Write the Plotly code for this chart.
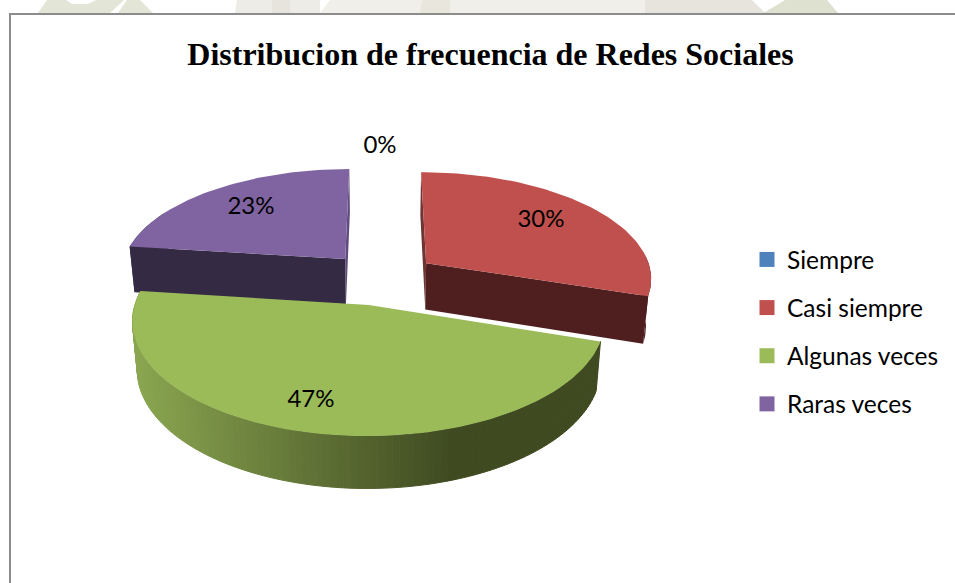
import math

import plotly.graph_objects as go

categories = ["Siempre", "Casi siempre", "Algunas veces", "Raras veces"]
percent_values = [0, 30, 47, 23]

top_colors = ["#4F81BD", "#C0504D", "#9BBB59", "#8064A2"]
cut_colors = ["#2A4465", "#4E1F1E", "#3F4A21", "#352A44"]
back_colors = ["#2A4465", "#6E3533", "#3F4A21", "#614C80"]

EXPLODE = 0.248
CENTER_V = 0.242
TILT = 0.134
VANISH_X = 381.5
TOP_PLANE = dict(r=234.0, s=113.5, y=305.0)
BASE_PLANE = dict(r=229.5, s=117.5, y=352.8)
LABEL_FONT = "Lato"


def project(theta, mid, plane, radius=1.0):
    u = EXPLODE * math.sin(mid) + radius * math.sin(theta)
    v = CENTER_V + EXPLODE * math.cos(mid) + radius * math.cos(theta)
    w = 1 + TILT * v
    return VANISH_X + plane["r"] * u / w, plane["y"] - plane["s"] * v / w


def arc_steps(start, end, step=math.radians(1.5)):
    count = max(1, int(abs(end - start) / step))
    return [start + (end - start) * i / count for i in range(count + 1)]


def polygon(points, color, line_width=0):
    return go.Scatter(
        x=[p[0] for p in points] + [points[0][0]],
        y=[p[1] for p in points] + [points[0][1]],
        mode="lines",
        fill="toself",
        fillcolor=color,
        line=dict(color=color, width=line_width),
        hoverinfo="skip",
        showlegend=False,
    )


def green_shade(x):
    # rim of the big slice: lit on the left, flat dark from about x=455
    t = min(1.0, max(0.0, (x - 135) / (455 - 135)))
    light, dark = (0x8A, 0xA6, 0x50), (0x3F, 0x4A, 0x21)
    rgb = [round(a + (b - a) * t) for a, b in zip(light, dark)]
    return "rgb(%d,%d,%d)" % tuple(rgb)


bounds = [0.0]
for value in percent_values:
    bounds.append(bounds[-1] + value / sum(percent_values) * 2 * math.pi)
slices = list(zip(bounds[:-1], bounds[1:]))

fig = go.Figure()

# back slices first, the front one lies over their walls
for i in [3, 1]:
    start, end = slices[i]
    mid = (start + end) / 2
    top_apex = project(0, mid, TOP_PLANE, 0)
    base_apex = project(0, mid, BASE_PLANE, 0)
    # wall on the far cut
    far = end if i == 3 else start
    near = start if i == 3 else end
    fig.add_trace(polygon([top_apex, project(far, mid, TOP_PLANE),
                           project(far, mid, BASE_PLANE), base_apex], back_colors[i]))
    fig.add_trace(polygon([top_apex, project(near, mid, TOP_PLANE),
                           project(near, mid, BASE_PLANE), base_apex], cut_colors[i]))
    # short piece of rim next to the near cut
    rim_end = near + (math.radians(-22) if i == 1 else math.radians(22))
    rim = arc_steps(near, rim_end)
    fig.add_trace(polygon([project(t, mid, TOP_PLANE) for t in rim]
                          + [project(t, mid, BASE_PLANE) for t in reversed(rim)],
                          cut_colors[i]))
    arc = arc_steps(start, end)
    fig.add_trace(polygon([top_apex] + [project(t, mid, TOP_PLANE) for t in arc], top_colors[i]))

start, end = slices[2]
mid = (start + end) / 2
arc = arc_steps(start, end)
for t0, t1 in zip(arc[:-1], arc[1:]):
    quad = [project(t0, mid, TOP_PLANE), project(t1, mid, TOP_PLANE),
            project(t1, mid, BASE_PLANE), project(t0, mid, BASE_PLANE)]
    fig.add_trace(polygon(quad, green_shade(quad[0][0]), 1))
fig.add_trace(polygon([project(0, mid, TOP_PLANE, 0)] + [project(t, mid, TOP_PLANE) for t in arc],
                      top_colors[2]))

# legend swatches
for name, color in zip(categories, top_colors):
    fig.add_trace(go.Scatter(
        x=[None], y=[None], mode="markers", name=name, legendgroup=name,
        marker=dict(symbol="square", size=15, color=color),
    ))

label_text = ["%d%%" % v for v in percent_values]
label_x = [380, 541, 311, 251]
label_y = [147, 221, 401, 208]
fig.add_trace(go.Scatter(
    x=label_x, y=label_y, mode="text", text=label_text, textposition="middle center",
    textfont=dict(family=LABEL_FONT, size=24, color="#000000"),
    hoverinfo="skip", showlegend=False,
))

# faint page watermark above the chart frame
watermark = [
    ("M38,13 L47,0 L66,0 L72,4 L88,4 L96,0 L124,0 L110,13 Z", "#E3E5D7"),
    ("M118,13 L127,0 L140,0 L153,13 Z", "#E3E5D7"),
    ("M235,13 L237,0 L320,0 L320,13 Z", "#EEECE6"),
    ("M272,13 L272,0 L290,0 L290,13 Z", "#E6E4DC"),
    ("M320,13 L330,0 L645,0 L645,13 Z", "#F0EFE9"),
    ("M420,13 L422,0 L450,0 L450,13 Z", "#E9E6DD"),
    ("M645,13 L645,0 L752,0 L765,13 Z", "#E6E4DC"),
    ("M763,13 L772,8 L785,0 L827,0 L838,13 Z", "#DFE1D0"),
]
shapes = [dict(type="path", path=p, fillcolor=c, line=dict(width=0), layer="below")
          for p, c in watermark]
frame = dict(color="#8C8C8C", width=2)
shapes.append(dict(type="line", x0=9, x1=955, y0=14, y1=14, line=frame, layer="below"))
shapes.append(dict(type="line", x0=10, x1=10, y0=13, y1=583, line=frame, layer="below"))

fig.update_layout(
    width=955,
    height=583,
    margin=dict(l=0, r=0, t=0, b=0),
    paper_bgcolor="#FFFFFF",
    plot_bgcolor="rgba(0,0,0,0)",
    title=dict(text="<b>Distribucion de frecuencia de Redes Sociales</b>",
               font=dict(family="Liberation Serif", size=32, color="#000000"),
               x=490.5 / 955, xanchor="center", y=1 - 54 / 583, yanchor="middle"),
    legend=dict(x=747 / 955, xanchor="left", y=1 - 237 / 583, yanchor="top",
                font=dict(family=LABEL_FONT, size=24.5, color="#000000"),
                tracegroupgap=13.3, itemwidth=30, bgcolor="rgba(0,0,0,0)"),
    xaxis=dict(range=[0, 955], visible=False, domain=[0, 1]),
    yaxis=dict(range=[583, 0], visible=False, domain=[0, 1]),
    shapes=shapes,
)

# the page's default 8px body margin would push the chart off the window
fig.write_html("out.html", config=dict(displayModeBar=False),
               post_script="document.body.style.margin='0';")
